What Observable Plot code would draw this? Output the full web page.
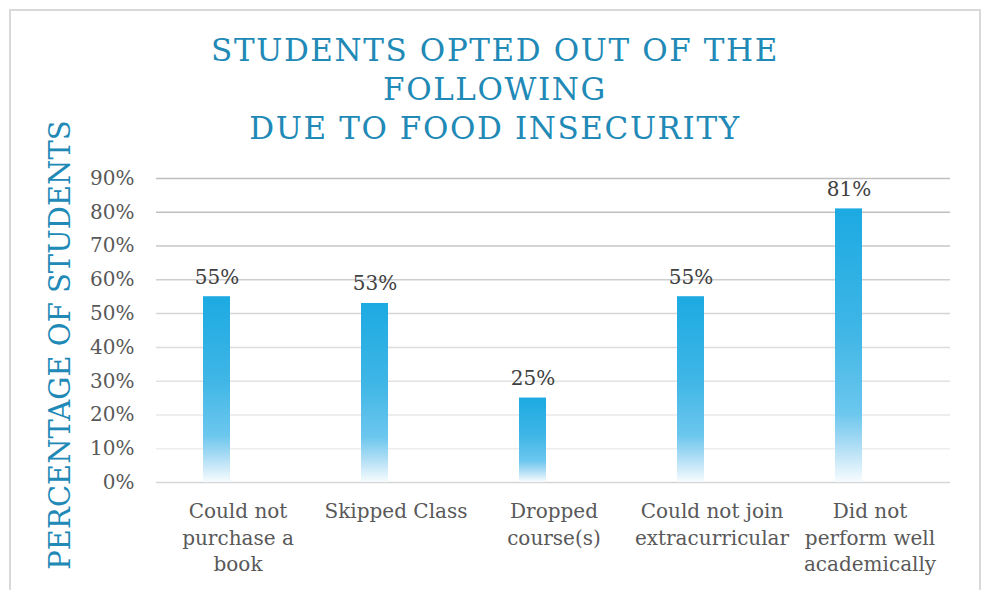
<!DOCTYPE html>
<html>
<head>
<meta charset="utf-8">
<script src="https://cdn.jsdelivr.net/npm/d3@7"></script>
<script src="https://cdn.jsdelivr.net/npm/@observablehq/plot@0.6"></script>
<style>
  body { margin: 0; background: #fff; }
  #wrap { position: relative; width: 982px; height: 590px; overflow: hidden; background: #fff; }
  #frame { position: absolute; left: 9px; top: 9px; width: 972px; height: 620px; border: 2px solid #d9d9d9; box-sizing: border-box; }
  #title { position: absolute; left: 9px; width: 972px; top: 31px; text-align: center;
           font-family: "DejaVu Serif", serif; font-size: 31px; line-height: 39px; letter-spacing: 1.6px;
           color: #2189b6; }
  #ylab { position: absolute; left: 60px; top: 345px; transform: translate(-50%, -50%) rotate(-90deg);
          white-space: nowrap; font-family: "DejaVu Serif", serif; font-size: 29px; line-height: 1;
          color: #2189b6; }
  #chart { position: absolute; left: 0; top: 0; }
</style>
</head>
<body>
<div id="wrap">
  <div id="frame"></div>
  <div id="chart"></div>
  <div id="title">STUDENTS OPTED OUT OF THE<br>FOLLOWING<br>DUE TO FOOD INSECURITY</div>
  <div id="ylab">PERCENTAGE OF STUDENTS</div>
</div>
<script>
const categories = [
  "Could not\npurchase a\nbook",
  "Skipped Class",
  "Dropped\ncourse(s)",
  "Could not join\nextracurricular",
  "Did not\nperform well\nacademically"
];
const values = [55, 53, 25, 55, 81];
const yTicks = [0, 10, 20, 30, 40, 50, 60, 70, 80, 90];

const data = categories.map((c, i) => ({category: c, value: values[i]}));
const gridColor = d3.interpolateRgb("#f0f0f0", "#bfbfbf");

const plot = Plot.plot({
  width: 982,
  height: 590,
  marginLeft: 156,
  marginRight: 32,
  marginTop: 178,
  marginBottom: 108,
  style: {fontFamily: "DejaVu Serif, serif", background: "transparent", overflow: "visible"},
  color: {type: "identity"},
  x: {domain: categories, paddingInner: 0.83, paddingOuter: 0.415, axis: null, label: null},
  y: {domain: [0, 90], axis: null, label: null},
  marks: [
    Plot.ruleY(yTicks.filter(d => d > 0), {y: d => d, stroke: d => gridColor(Math.min(1, Math.pow(d / 80, 1.3))), strokeWidth: 1.5}),
    Plot.ruleY([0], {stroke: "#d6d6d6", strokeWidth: 1.5}),
    Plot.barY(data, {x: "category", y: "value", fill: "url(#barGrad)", dx: -21}),
    Plot.text(data, {x: "category", y: "value", text: d => d.value + "%", dx: -21, dy: -13,
                     lineAnchor: "bottom", fontSize: 20, fill: "#404040"}),
    Plot.axisY(yTicks, {label: null, tickSize: 0, tickPadding: 22, tickFormat: d => d + "%", fontSize: 20, color: "#595959"}),
    Plot.axisX({label: null, tickSize: 0, tickPadding: 17, fontSize: 20, lineHeight: 1.32, color: "#595959"})
  ]
});

const defs = d3.select(plot).insert("defs", ":first-child");
const g = defs.append("linearGradient").attr("id", "barGrad")
  .attr("x1", 0).attr("y1", 0).attr("x2", 0).attr("y2", 1);
[[0, "#1caae2"], [0.45, "#3fb6e6"], [0.75, "#6cc7ee"], [0.86, "#a9dbf4"], [1, "#f7fcfe"]]
  .forEach(([o, c]) => g.append("stop").attr("offset", o).attr("stop-color", c));

document.getElementById("chart").appendChild(plot);
</script>
</body>
</html>
